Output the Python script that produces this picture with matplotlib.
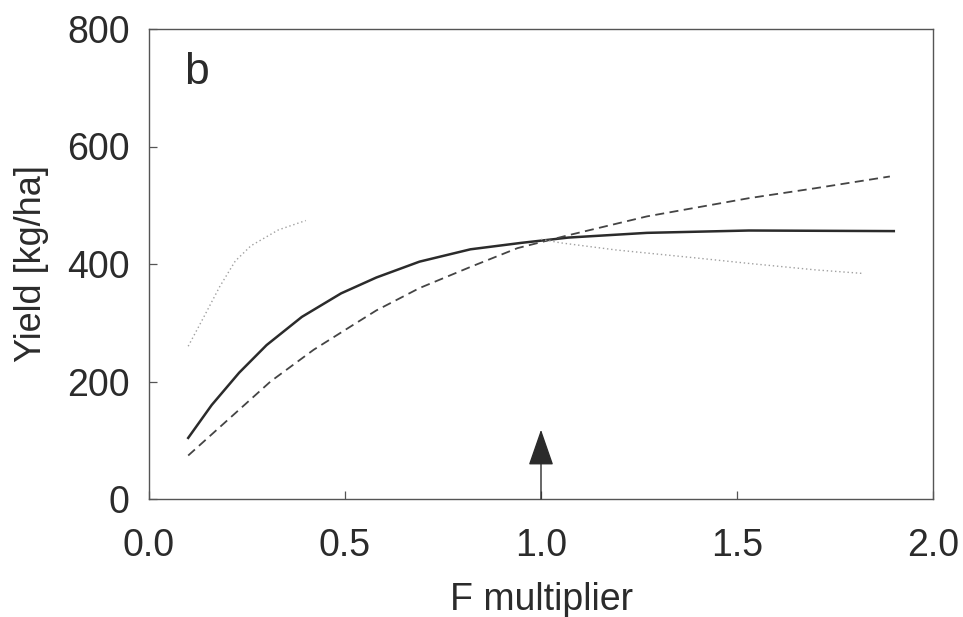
import numpy as np
import matplotlib
matplotlib.use("Agg")
import matplotlib.pyplot as plt

plt.rcParams["font.family"] = ["Liberation Sans", "DejaVu Sans"]

# ---------------------------------------------------------------
# data (F multiplier vs yield)
# ---------------------------------------------------------------
f_solid = [0.10, 0.16, 0.23, 0.30, 0.39, 0.49, 0.58, 0.69, 0.82, 0.95,
           1.07, 1.27, 1.53, 1.90]
y_solid = [104, 160, 215, 262, 310, 350, 377, 404, 425, 436,
           445, 453, 457, 456]

f_dash = [0.10, 0.21, 0.31, 0.42, 0.52, 0.58, 0.69, 0.82, 0.94, 1.07,
          1.27, 1.53, 1.70, 1.89]
y_dash = [74, 140, 200, 254, 296, 321, 359, 395, 427, 449,
          481, 512, 529, 549]

f_dot_low = [0.10, 0.14, 0.18, 0.22, 0.26, 0.33, 0.40]
y_dot_low = [260, 310, 361, 405, 431, 458, 474]

f_dot_high = [1.00, 1.05, 1.19, 1.40, 1.53, 1.70, 1.82]
y_dot_high = [442, 436, 424, 410, 401, 390, 384]

arrow_x = 1.0
arrow_top = 118

x_ticks = [0.0, 0.5, 1.0, 1.5, 2.0]
y_ticks = [0, 200, 400, 600, 800]

ink = "#2b2b2b"

# ---------------------------------------------------------------
# figure
# ---------------------------------------------------------------
fig = plt.figure(figsize=(9.63, 6.17), dpi=100)
ax = fig.add_axes([149 / 963, 118 / 617, (933 - 149) / 963, (499 - 29) / 617])

ax.plot(f_solid, y_solid, color=ink, lw=1.8, solid_joinstyle="round")
ax.plot(f_dash, y_dash, color="#444444", lw=1.3, dashes=(5, 3))
ax.plot(f_dot_low, y_dot_low, color="#a0a0a0", lw=1.0, ls=(0, (1, 2)))
ax.plot(f_dot_high, y_dot_high, color="#a0a0a0", lw=1.0, ls=(0, (1, 2)))

ax.annotate("", xy=(arrow_x, arrow_top), xytext=(arrow_x, 0),
            arrowprops=dict(arrowstyle="-|>,head_length=1.15,head_width=0.4",
                            mutation_scale=20, color=ink, lw=1.0,
                            shrinkA=0, shrinkB=0))

ax.text(0.045, 0.95, "b", transform=ax.transAxes, fontsize=32,
        color=ink, va="top", ha="left")

ax.set_xlim(0, 2.0)
ax.set_ylim(0, 800)
ax.set_xticks(x_ticks)
ax.set_xticklabels([f"{v:.1f}" for v in x_ticks])
ax.set_yticks(y_ticks)

ax.tick_params(direction="in", length=6, width=0.9, colors="#555555",
               labelcolor=ink, labelsize=27)
ax.tick_params(axis="x", pad=21)
ax.tick_params(axis="y", pad=14)

for s in ax.spines.values():
    s.set_color("#555555")
    s.set_linewidth(1.0)

ax.set_xlabel("F multiplier", fontsize=27, color=ink, labelpad=13)
ax.set_ylabel("Yield [kg/ha]", fontsize=26, color=ink, labelpad=13)

fig.savefig("out.png", dpi=100)
